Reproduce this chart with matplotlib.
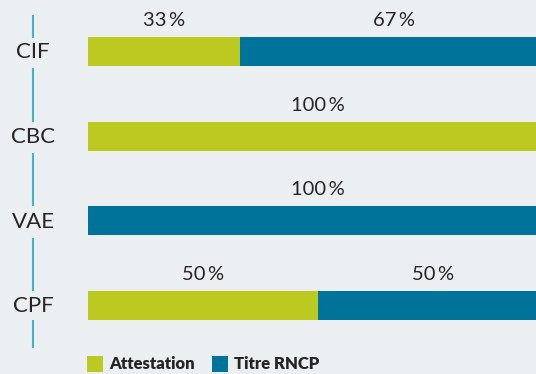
import matplotlib
matplotlib.use('Agg')
import matplotlib.pyplot as plt
from matplotlib.patches import Rectangle
import numpy as np

plt.rcParams['font.family'] = ['Lato', 'DejaVu Sans']

# parts par dispositif (%)
categories = ['CIF', 'CBC', 'VAE', 'CPF']
attestation = [33, 100, 0, 50]
titre_rncp = [67, 0, 100, 50]
series_names = ['Attestation', 'Titre RNCP']

bg = '#ECEFF2'
green = '#BCC920'
blue = '#00739A'
line_col = '#3FB5C5'
txt_col = '#262425'

W, H = 536, 374
fig = plt.figure(figsize=(W / 100, H / 100), dpi=100, facecolor=bg)

# axe des barres: 0-100 % sur 88..548 px, une rangée tous les ~84.7 px
row_px = 84.67
first_px = 51.5
ax = fig.add_axes([88 / W, 0, 460 / W, 1])
ax.set_facecolor(bg)
ax.set_xlim(0, 100)
ax.set_ylim((H - first_px) / row_px, -first_px / row_px)
ax.axis('off')

y = np.arange(len(categories))
bh = 29 / row_px
att = np.array(attestation)
rncp = np.array(titre_rncp)
ax.barh(y, att, height=bh, color=green, linewidth=0, clip_on=False)
ax.barh(y, rncp, left=att, height=bh, color=blue, linewidth=0, clip_on=False)

# étiquettes de pourcentage au-dessus de chaque segment
for i in range(len(categories)):
    left = 0
    for v in (att[i], rncp[i]):
        if v > 0:
            ax.text(left + v / 2, i - bh / 2 - 8 / row_px, f'{v}\u2009%',
                    ha='center', va='bottom', fontsize=14.5, color=txt_col,
                    clip_on=False)
        left += v

# noms des dispositifs sur une ligne verticale interrompue
xl = (33 - 88) / 460 * 100
for i, c in enumerate(categories):
    ax.text(xl, i + 0.01, c, ha='center', va='center', fontsize=16,
            color=txt_col, clip_on=False)
segs = [(-0.43, -0.16)]
for i in range(len(categories) - 1):
    segs.append((i + 0.2, i + 1 - 0.17))
segs.append((len(categories) - 1 + 0.17, len(categories) - 1 + 0.5))
for a, b in segs:
    ax.plot([xl, xl], [a, b], color=line_col, lw=1.5, clip_on=False,
            solid_capstyle='butt')

# légende
for x0, name, col in [(87, series_names[0], green), (212, series_names[1], blue)]:
    fig.add_artist(Rectangle((x0 / W, 2 / H), 16 / W, 16 / H, color=col,
                             transform=fig.transFigure, lw=0))
    fig.text((x0 + 22) / W, 10 / H, name, ha='left', va='center',
             fontsize=12, fontweight='heavy', color=txt_col)

fig.savefig('out.png', dpi=100, facecolor=bg)
